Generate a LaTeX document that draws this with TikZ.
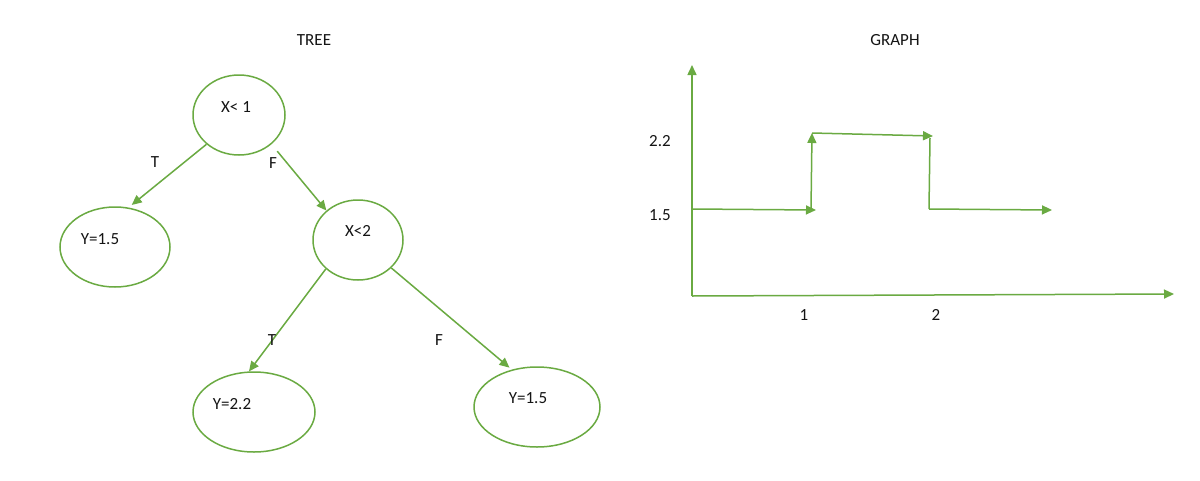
\documentclass[tikz,border=0pt]{standalone}
\usepackage{fontspec}
\setmainfont{Carlito}
\usetikzlibrary{shapes.geometric,arrows.meta}
\definecolor{gr}{RGB}{106,170,66}
\definecolor{tx}{RGB}{20,20,20}
\begin{document}
\begin{tikzpicture}[x=1pt,y=-1pt,
  ell/.style={ellipse,draw=gr,line width=1.5pt,inner sep=0pt},
  lbl/.style={text=tx,inner sep=0pt,font=\fontsize{17}{20}\selectfont},
  arr/.style={draw=gr,line width=1.5pt,-{Triangle[length=10pt,width=9pt]}},
  ln/.style={draw=gr,line width=1.5pt}]
\useasboundingbox[fill=white] (0,0) rectangle (1200,480);
% titles
\node[lbl] (ttree) at (314,40) {TREE};
\node[lbl] (tgraph) at (895,40) {GRAPH};
% tree ellipses
\node[ell,minimum width=92pt,minimum height=80pt] (root) at (239,115) {};
\node[ell,minimum width=110pt,minimum height=80pt] (left) at (115,247) {};
\node[ell,minimum width=90pt,minimum height=80pt] (mid) at (358,240) {};
\node[ell,minimum width=122pt,minimum height=80pt] (ll) at (254,412) {};
\node[ell,minimum width=126pt,minimum height=80pt] (lr) at (537,407) {};
% texts in ellipses
\node[lbl] (troot) at (236,107) {X< 1};
\node[lbl] (tleft) at (100,239) {Y=1.5};
\node[lbl] (tmid) at (358,231) {X<2};
\node[lbl] (tll) at (232,404) {Y=2.2};
\node[lbl] (tlr) at (528,398) {Y=1.5};
% edges
\draw[arr,shorten >=4pt] (root.222) -- (left.71);
\draw[arr,shorten <=9pt] (root.-42) -- (mid.137);
\draw[arr] (mid.222) -- (ll.97);
\draw[arr,shorten >=3pt] (mid.-40) -- (lr.124);
% edge labels
\node[lbl] (e1) at (155,162) {T};
\node[lbl] (e2) at (273,163) {F};
\node[lbl] (e3) at (272,340) {T};
\node[lbl] (e4) at (439,340) {F};
% graph
\coordinate (O) at (692,296);
\coordinate (ytop) at (692,65);
\coordinate (xend) at (1174,294);
\coordinate (a) at (692,209);
\coordinate (b) at (816,210);
\coordinate (c) at (811,210);
\coordinate (d) at (812,133);
\coordinate (e) at (812,133);
\coordinate (f) at (933,136);
\coordinate (g) at (930,138);
\coordinate (h) at (929,209);
\coordinate (i) at (1052,210);
\draw[arr] (O) -- (ytop);
\draw[arr] (O) -- (xend);
\draw[arr] (a) -- (b);
\draw[arr] (c) -- (d);
\draw[arr] (e) -- (f);
\draw[ln] (g) -- (h);
\draw[arr] (h) -- (i);
\node[lbl] (y22) at (660,141) {2.2};
\node[lbl] (y15) at (660,215) {1.5};
\node[lbl] (x1) at (804,315) {1};
\node[lbl] (x2) at (936,315) {2};
\end{tikzpicture}
\end{document}
